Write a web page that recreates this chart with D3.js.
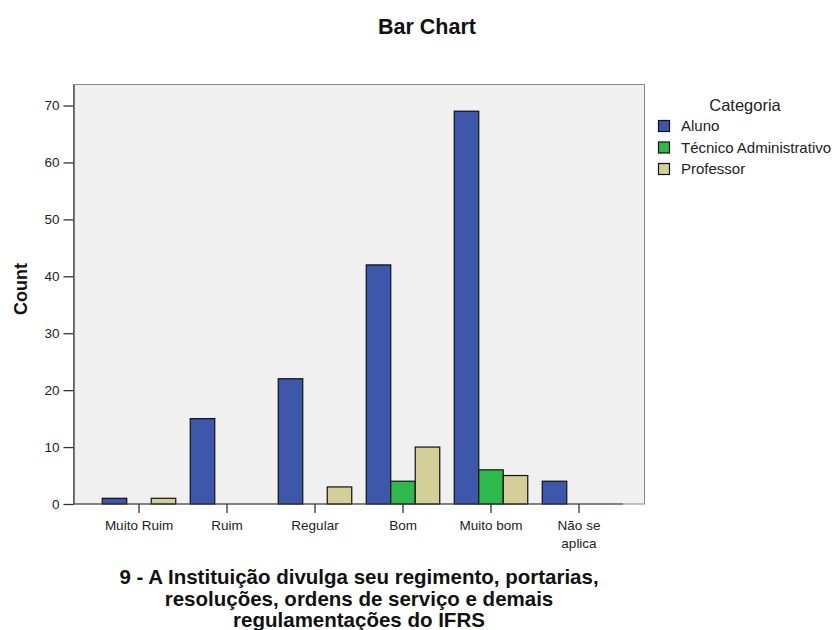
<!DOCTYPE html>
<html><head><meta charset="utf-8">
<script src="https://cdn.jsdelivr.net/npm/d3@7"></script>
<style>body{margin:0;background:#fff}svg{display:block;font-family:"Liberation Sans",Arial,sans-serif}</style>
</head><body>
<svg id="c" width="835" height="630"></svg>
<script>
const categories = ["Muito Ruim","Ruim","Regular","Bom","Muito bom","Não se aplica"];
const seriesNames = ["Aluno","Técnico Administrativo","Professor"];
const aluno = [1,15,22,42,69,4];
const tecnico = [0,0,0,4,6,0];
const professor = [1,0,3,10,5,0];
const yTicks = [0,10,20,30,40,50,60,70];
const colors = ["#3d57ab","#2db94b","#d4cf98"];
const seriesValues = [aluno, tecnico, professor];

const svg = d3.select("#c");
const pLeft = 73.5, pRight = 644.5, pTop = 84.5, pBottom = 504;

svg.append("rect").attr("x",pLeft).attr("y",pTop).attr("width",pRight-pLeft).attr("height",pBottom-pTop)
  .attr("fill","#f0f0f0").attr("stroke","#8a8a8a").attr("stroke-width",1);

const x0 = d3.scaleBand().domain(categories).range([95,623]).paddingInner(0).paddingOuter(0);
const bw = x0.bandwidth();
const x1 = d3.scaleBand().domain(seriesNames).range([bw*0.0824, bw*(1-0.0824)]).padding(0);
const y = d3.scaleLinear().domain([0,73.69]).range([pBottom, pTop]);

// bars
const data = [];
categories.forEach((c,i)=>seriesNames.forEach((s,j)=>{ if(seriesValues[j][i]>0) data.push({c,s,v:seriesValues[j][i],col:colors[j]}); }));
svg.append("g").selectAll("rect").data(data).join("rect")
  .attr("x",d=>x0(d.c)+x1(d.s)).attr("y",d=>y(d.v))
  .attr("width",x1.bandwidth()).attr("height",d=>y(0)-y(d.v))
  .attr("fill",d=>d.col).attr("stroke","#111").attr("stroke-width",1.2);

// x axis line
svg.append("line").attr("x1",pLeft).attr("x2",623).attr("y1",pBottom).attr("y2",pBottom).attr("stroke","#444").attr("stroke-width",1.2);

// y axis
const ya = svg.append("g").attr("transform",`translate(${pLeft},0)`)
  .call(d3.axisLeft(y).tickValues(yTicks).tickSize(10).tickSizeOuter(0).tickPadding(4).tickFormat(d3.format("d")));
ya.select(".domain").attr("stroke","#555").attr("stroke-width",1.5);
ya.selectAll(".tick line").attr("stroke","#333").attr("stroke-width",1.3);
ya.selectAll(".tick text").attr("font-size",13.5).attr("fill","#222").attr("font-family","Liberation Sans, Arial, sans-serif");

// x axis ticks
const xa = svg.append("g").attr("transform",`translate(0,${pBottom})`)
  .call(d3.axisBottom(x0).tickSize(9).tickSizeOuter(0).tickFormat(""));
xa.select(".domain").remove();
xa.selectAll(".tick line").attr("stroke","#333").attr("stroke-width",1.3);
const xLabelLines = {"Não se aplica":["Não se","aplica"]};
xa.selectAll(".tick").each(function(d){
  const lines = xLabelLines[d] || [d];
  const t = d3.select(this).append("text").attr("text-anchor","middle").attr("fill","#222")
    .attr("font-size",13.5).attr("font-family","Liberation Sans, Arial, sans-serif");
  lines.forEach((l,k)=>t.append("tspan").attr("x",0).attr("y",26+k*18).text(l));
});

// title
svg.append("text").attr("x",427).attr("y",34).attr("text-anchor","middle")
  .attr("font-size",21.5).attr("font-weight","bold").attr("fill","#111").text("Bar Chart");

// y title
svg.append("text").attr("transform","translate(27,289) rotate(-90)").attr("text-anchor","middle")
  .attr("font-size",18).attr("font-weight","bold").attr("fill","#111").text("Count");

// x title
const xt = ["9 - A Instituição divulga seu regimento, portarias,","resoluções, ordens de serviço e demais","regulamentações do IFRS"];
const xtt = svg.append("text").attr("text-anchor","middle").attr("font-size",20.5).attr("font-weight","bold").attr("fill","#111");
xt.forEach((l,k)=>xtt.append("tspan").attr("x",359).attr("y",584+k*21.5).text(l));

// legend
const lg = svg.append("g");
lg.append("text").attr("x",745).attr("y",111).attr("text-anchor","middle").attr("font-size",16.5).attr("fill","#222").text("Categoria");
seriesNames.forEach((s,j)=>{
  const yy = 120 + j*21.5;
  lg.append("rect").attr("x",658.5).attr("y",yy+0.5).attr("width",11).attr("height",11)
    .attr("fill",colors[j]).attr("stroke","#111").attr("stroke-width",1.2);
  lg.append("text").attr("x",681).attr("y",yy+11).attr("font-size",15).attr("fill","#222").text(s);
});
</script>
</body></html>
